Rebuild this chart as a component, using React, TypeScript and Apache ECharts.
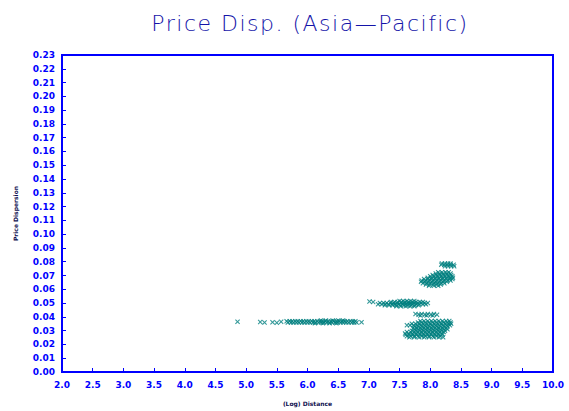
import React, { useEffect, useRef } from "react";
import * as echarts from "echarts";

// Axis ranges and tick steps
const X_MIN = 2.0;
const X_MAX = 10.0;
const X_STEP = 0.5;
const Y_MIN = 0.0;
const Y_MAX = 0.23;
const Y_STEP = 0.01;

const TITLE = "Price Disp. (Asia\u2014Pacific)";
const X_NAME = "(Log) Distance";
const Y_NAME = "Price Dispersion";

// Observations: isolated points as [distance, dispersion]
const SPARSE_POINTS: [number, number][] = [
  [4.86, 0.0365], [5.23, 0.0362], [5.30, 0.0359], [5.43, 0.0361], [5.50, 0.0358],
  [5.57, 0.0364], [6.88, 0.0361], [7.01, 0.0512], [7.07, 0.0508],
];

// Dense groups, listed by dispersion level: [dispersion, distances[]]
const GROUP_NEAR: [number, number[]][] = [
  [0.0374, [6.22, 6.30, 6.41, 6.50, 6.58]],
  [0.0369, [5.66, 5.71, 5.75, 5.80, 5.84, 5.89, 5.93, 5.98, 6.02, 6.07, 6.11, 6.16, 6.20, 6.25, 6.29, 6.34, 6.38, 6.43, 6.47, 6.52, 6.56, 6.61, 6.65, 6.70, 6.74, 6.78]],
  [0.0360, [5.68, 5.73, 5.77, 5.82, 5.86, 5.91, 5.95, 6.00, 6.04, 6.09, 6.13, 6.18, 6.22, 6.27, 6.31, 6.36, 6.40, 6.45, 6.49, 6.54, 6.58, 6.63, 6.67, 6.72, 6.76, 6.80]],
  [0.0354, [6.12, 6.25, 6.36, 6.47]],
];

const GROUP_MID: [number, number[]][] = [
  [0.0516, [7.50, 7.56, 7.62, 7.68, 7.74]],
  [0.0508, [7.36, 7.42, 7.47, 7.53, 7.59, 7.65, 7.71, 7.77, 7.83, 7.88]],
  [0.0500, [7.18, 7.24, 7.29, 7.35, 7.40, 7.46, 7.52, 7.57, 7.63, 7.68, 7.74, 7.80, 7.85, 7.91, 7.96]],
  [0.0492, [7.15, 7.21, 7.27, 7.32, 7.38, 7.43, 7.49, 7.55, 7.60, 7.66, 7.71, 7.77, 7.82, 7.88, 7.93]],
  [0.0484, [7.26, 7.33, 7.39, 7.45, 7.51, 7.57, 7.63, 7.69, 7.75, 7.81]],
  [0.0477, [7.45, 7.52, 7.60, 7.67, 7.74]],
];

const GROUP_HIGH: [number, number[]][] = [
  [0.0787, [8.19, 8.24, 8.29, 8.33]],
  [0.0778, [8.18, 8.23, 8.28, 8.33, 8.38]],
  [0.0768, [8.24, 8.29, 8.34, 8.39]],
  [0.0724, [8.13, 8.19, 8.25, 8.30]],
  [0.0714, [8.09, 8.15, 8.21, 8.27, 8.33]],
  [0.0704, [8.04, 8.10, 8.16, 8.22, 8.28, 8.34]],
  [0.0694, [8.00, 8.06, 8.12, 8.18, 8.24, 8.30, 8.36]],
  [0.0684, [7.96, 8.02, 8.08, 8.14, 8.20, 8.26, 8.32, 8.37]],
  [0.0674, [7.90, 7.96, 8.02, 8.08, 8.14, 8.20, 8.26, 8.32, 8.36]],
  [0.0664, [7.86, 7.92, 7.98, 8.04, 8.10, 8.16, 8.22, 8.28, 8.33]],
  [0.0654, [7.85, 7.91, 7.97, 8.03, 8.09, 8.15, 8.21, 8.27]],
  [0.0644, [7.88, 7.94, 8.00, 8.06, 8.12, 8.18, 8.23]],
  [0.0634, [7.93, 7.99, 8.05, 8.11, 8.17]],
  [0.0626, [7.98, 8.06, 8.13]],
];

const GROUP_LOW: [number, number[]][] = [
  [0.0421, [7.76, 7.86, 7.96, 8.06]],
  [0.0416, [7.81, 7.91, 8.01, 8.11]],
  [0.0410, [7.84, 7.94, 8.04]],
  [0.0370, [7.84, 7.90, 7.96, 8.02, 8.08, 8.14, 8.20, 8.26, 8.31]],
  [0.0360, [7.80, 7.86, 7.92, 7.98, 8.04, 8.10, 8.16, 8.22, 8.28, 8.33]],
  [0.0350, [7.70, 7.76, 7.82, 7.88, 7.94, 8.00, 8.06, 8.12, 8.18, 8.24, 8.30, 8.34]],
  [0.0340, [7.62, 7.67, 7.73, 7.79, 7.85, 7.91, 7.97, 8.03, 8.09, 8.15, 8.21, 8.27, 8.32]],
  [0.0330, [7.74, 7.80, 7.86, 7.92, 7.98, 8.04, 8.10, 8.16, 8.22, 8.28]],
  [0.0320, [7.72, 7.78, 7.84, 7.90, 7.96, 8.02, 8.08, 8.14, 8.20, 8.26]],
  [0.0310, [7.75, 7.81, 7.87, 7.93, 7.99, 8.05, 8.11, 8.17, 8.23, 8.28]],
  [0.0300, [7.70, 7.76, 7.82, 7.88, 7.94, 8.00, 8.06, 8.12, 8.18, 8.24]],
  [0.0290, [7.62, 7.68, 7.74, 7.80, 7.86, 7.92, 7.98, 8.04, 8.10, 8.16, 8.22]],
  [0.0280, [7.59, 7.65, 7.71, 7.77, 7.83, 7.89, 7.95, 8.01, 8.07, 8.13, 8.19]],
  [0.0270, [7.60, 7.66, 7.72, 7.78, 7.84, 7.90, 7.96, 8.02, 8.08, 8.14, 8.20]],
  [0.0260, [7.62, 7.68, 7.74, 7.80, 7.86, 7.92, 7.98, 8.04, 8.10, 8.16]],
  [0.0252, [7.66, 7.74, 7.82, 7.90, 7.98, 8.06, 8.14, 8.21]],
];

const rowsToPoints = (rows: [number, number[]][]): [number, number][] =>
  rows.flatMap(([y, xs]) => xs.map((x) => [x, y] as [number, number]));

const AXIS_BLUE = "#0000ff";
const TITLE_BLUE = "#1414a8";
const POINT_COLOR = "#008080";
const CROSS =
  "path://M0,1.5L1.5,0L5,3.5L8.5,0L10,1.5L6.5,5L10,8.5L8.5,10L5,6.5L1.5,10L0,8.5L3.5,5Z";

export default function App() {
  const ref = useRef<HTMLDivElement>(null);

  useEffect(() => {
    if (!ref.current) return;
    const chart = echarts.init(ref.current, undefined, { renderer: "svg" });

    const points = [
      ...SPARSE_POINTS,
      ...rowsToPoints(GROUP_NEAR),
      ...rowsToPoints(GROUP_MID),
      ...rowsToPoints(GROUP_HIGH),
      ...rowsToPoints(GROUP_LOW),
    ];

    const tickLabel = {
      color: AXIS_BLUE,
      fontFamily: "DejaVu Sans",
      fontSize: 9,
      fontWeight: "bold" as const,
    };
    const nameStyle = {
      color: "#101050",
      fontFamily: "DejaVu Sans",
      fontSize: 6,
      fontWeight: "bold" as const,
    };

    chart.setOption({
      animation: false,
      backgroundColor: "#ffffff",
      title: {
        text: TITLE,
        left: 305,
        top: 7,
        textAlign: "center",
        textStyle: {
          color: TITLE_BLUE,
          fontFamily: "DejaVu Sans",
          fontWeight: 200,
          fontSize: 22,
        },
      },
      grid: {
        left: 62,
        right: 16,
        top: 55,
        bottom: 39,
        show: true,
        borderColor: AXIS_BLUE,
        borderWidth: 2,
        backgroundColor: "transparent",
      },
      xAxis: {
        type: "value",
        min: X_MIN,
        max: X_MAX,
        interval: X_STEP,
        name: X_NAME,
        nameLocation: "middle",
        nameGap: 28,
        nameTextStyle: nameStyle,
        axisLine: { show: true, lineStyle: { color: AXIS_BLUE, width: 2 } },
        axisTick: { show: true, inside: true, length: 4, lineStyle: { color: AXIS_BLUE, width: 1 } },
        axisLabel: {
          ...tickLabel,
          margin: 8,
          formatter: (v: number) => v.toFixed(1),
        },
        splitLine: { show: false },
      },
      yAxis: {
        type: "value",
        min: Y_MIN,
        max: Y_MAX,
        interval: Y_STEP,
        name: Y_NAME,
        nameLocation: "middle",
        nameGap: 44,
        nameTextStyle: nameStyle,
        axisLine: { show: true, lineStyle: { color: AXIS_BLUE, width: 2 } },
        axisTick: { show: true, inside: true, length: 4, lineStyle: { color: AXIS_BLUE, width: 1 } },
        axisLabel: {
          ...tickLabel,
          margin: 7,
          formatter: (v: number) => v.toFixed(2),
        },
        splitLine: { show: false },
      },
      series: [
        {
          type: "scatter",
          data: points,
          symbol: CROSS,
          symbolSize: 5,
          itemStyle: { color: POINT_COLOR },
        },
      ],
    });

    // The title is set in a widely tracked style
    ref.current.querySelectorAll("text").forEach((t) => {
      if (t.textContent === TITLE) t.setAttribute("letter-spacing", "1.5");
    });

    return () => chart.dispose();
  }, []);

  return (
    <div
      ref={ref}
      style={{ position: "fixed", left: 0, top: 0, width: 569, height: 411 }}
    />
  );
}
